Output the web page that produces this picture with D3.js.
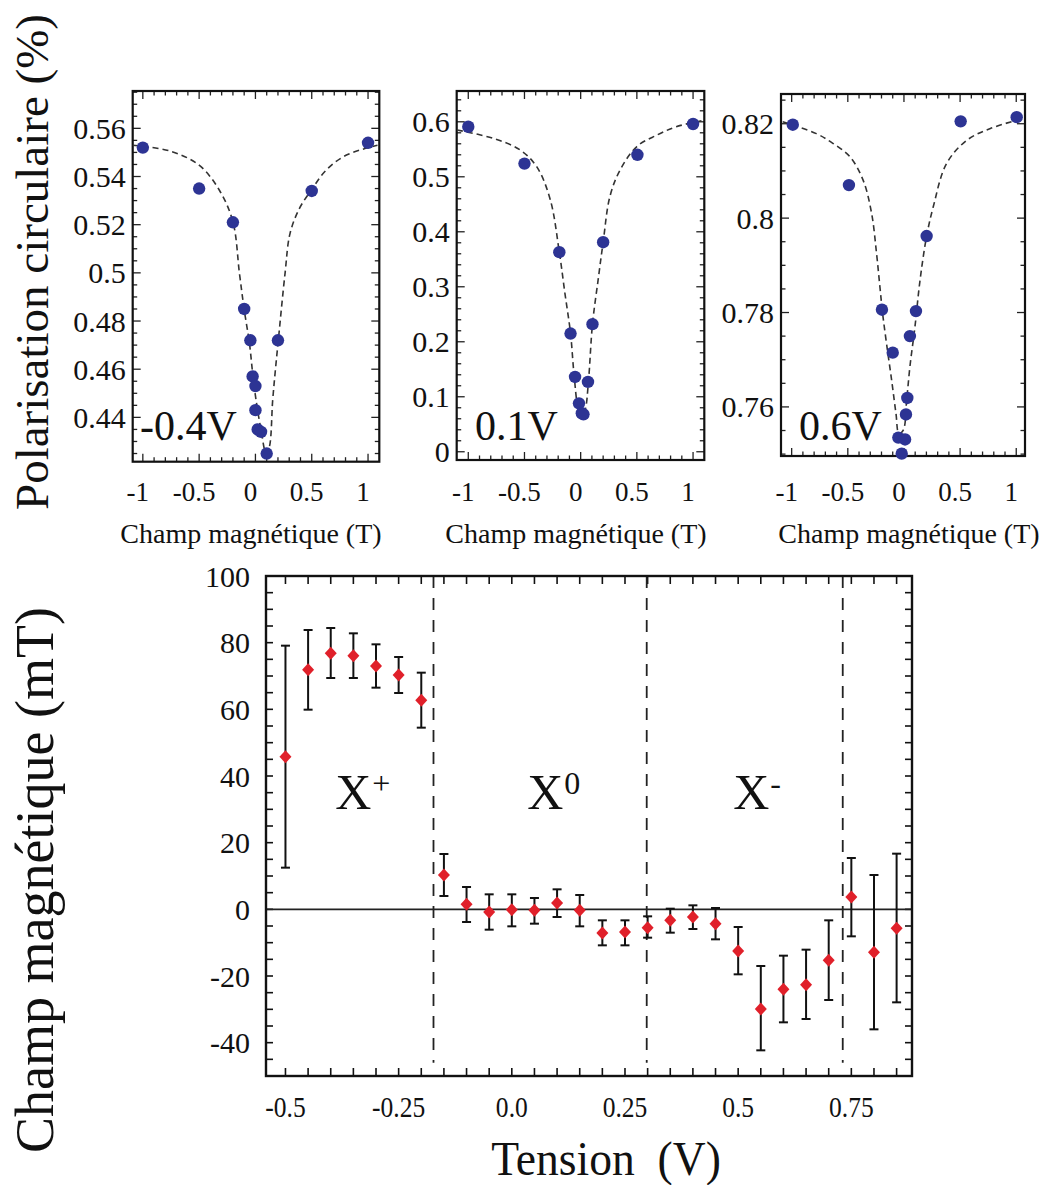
<!DOCTYPE html>
<html><head><meta charset="utf-8">
<script src="https://cdn.jsdelivr.net/npm/d3@7"></script>
<style>
body{margin:0;background:#fff}
svg text{fill:#111}
</style>
</head><body>
<svg id="c" width="1056" height="1185" font-family="'Liberation Serif', 'Times New Roman', 'DejaVu Serif', serif"></svg>
<script>
// ---------- DATA ----------
// Top panels: circular polarisation vs magnetic field
const fieldA = [-1, -0.5, -0.2, -0.1, -0.045, -0.025, 0.0, 0.0, 0.02, 0.05, 0.1, 0.2, 0.5, 1.0];
const polA   = [0.552, 0.535, 0.521, 0.485, 0.472, 0.457, 0.453, 0.443, 0.435, 0.434, 0.425, 0.472, 0.534, 0.554];
const fitFieldA = [-1.09, -0.76, -0.5, -0.32, -0.2, -0.142, -0.1, -0.053, -0.024, 0.006, 0.05, 0.095, 0.124, 0.153, 0.177, 0.204, 0.263, 0.307, 0.39, 0.496, 0.627, 0.804, 1.084];
const fitPolA   = [0.553, 0.5506, 0.5447, 0.5343, 0.5212, 0.4998, 0.4848, 0.4707, 0.458, 0.447, 0.4347, 0.425, 0.4278, 0.447, 0.4596, 0.4724, 0.4998, 0.5163, 0.5267, 0.5343, 0.5426, 0.5488, 0.553];

const fieldB = [-1.0, -0.5, -0.19, -0.09, -0.05, -0.015, 0.01, 0.025, 0.065, 0.105, 0.2, 0.505, 1.0];
const polB   = [0.591, 0.524, 0.363, 0.215, 0.136, 0.088, 0.070, 0.068, 0.127, 0.232, 0.381, 0.540, 0.596];
const fitFieldB = [-1.1, -0.78, -0.54, -0.39, -0.27, -0.19, -0.14, -0.09, -0.06, -0.02, 0.01, 0.04, 0.07, 0.105, 0.155, 0.2, 0.26, 0.35, 0.5, 0.68, 0.85, 1.1];
const fitPolB   = [0.585, 0.570, 0.549, 0.518, 0.458, 0.363, 0.288, 0.215, 0.143, 0.076, 0.064, 0.076, 0.130, 0.232, 0.312, 0.381, 0.464, 0.512, 0.555, 0.576, 0.591, 0.603];

const fieldC = [-0.99, -0.49, -0.196, -0.1, -0.05, -0.02, 0.01, 0.018, 0.03, 0.053, 0.107, 0.202, 0.505, 1.004];
const polC   = [0.8198, 0.807, 0.7806, 0.7715, 0.7535, 0.7501, 0.7531, 0.7584, 0.7619, 0.775, 0.7803, 0.7962, 0.8205, 0.8214];
const fitFieldC = [-1.08, -0.78, -0.63, -0.481, -0.363, -0.288, -0.244, -0.214, -0.19, -0.155, -0.11, -0.071, -0.045, -0.006, 0.024, 0.053, 0.098, 0.143, 0.202, 0.261, 0.38, 0.56, 0.77, 1.06];
const fitPolC   = [0.8204, 0.8179, 0.8158, 0.813, 0.808, 0.801, 0.7925, 0.7854, 0.7798, 0.7734, 0.7657, 0.7586, 0.7544, 0.7551, 0.7614, 0.7685, 0.777, 0.7868, 0.7962, 0.8024, 0.8116, 0.8165, 0.819, 0.8211];

const panelLabels = ["-0.4V", "0.1V", "0.6V"];
const fieldTicks = [-1, -0.5, 0, 0.5, 1];
const fieldTickLabels = ["-1", "-0.5", "0", "0.5", "1"];
const polTicksA = [0.44, 0.46, 0.48, 0.5, 0.52, 0.54, 0.56];
const polTicksB = [0, 0.1, 0.2, 0.3, 0.4, 0.5, 0.6];
const polTicksC = [0.76, 0.78, 0.8, 0.82];

// Bottom panel: magnetic field vs bias voltage
const tension = [-0.5,-0.45,-0.4,-0.35,-0.3,-0.25,-0.2,-0.15,-0.1,-0.05,0,0.05,0.1,0.15,0.2,0.25,0.3,0.35,0.4,0.45,0.5,0.55,0.6,0.65,0.7,0.75,0.8,0.85];
const champ   = [45.8,71.9,76.8,76.1,73.0,70.3,62.7,10.3,1.5,-0.8,-0.1,-0.3,1.9,-0.3,-7.1,-6.8,-5.5,-3.3,-2.3,-4.3,-12.5,-29.9,-24.0,-22.6,-15.3,3.7,-12.9,-5.7];
const champHi = [79.1,83.8,84.4,82.8,79.5,75.7,71.0,16.6,6.7,4.5,4.5,3.4,6.0,4.3,-3.3,-3.3,-2.1,0.2,1.2,0.4,-5.3,-17.0,-13.9,-12.1,-3.3,15.4,10.3,16.7];
const champLo = [12.5,59.9,69.4,69.4,66.5,64.9,54.5,4.0,-3.8,-6.1,-5.1,-4.3,-2.3,-5.1,-10.8,-10.8,-8.5,-7.0,-5.9,-9.0,-19.5,-42.3,-33.9,-32.9,-27.2,-8.1,-36.0,-27.9];
const boundaries = [-0.173, 0.298, 0.731];
const tensionTicks = [-0.5, -0.25, 0, 0.25, 0.5, 0.75];
const tensionTickLabels = ["-0.5", "-0.25", "0.0", "0.25", "0.5", "0.75"];
const champTicks = [-40, -20, 0, 20, 40, 60, 80, 100];
const regionBase = ["X", "X", "X"];
const regionSup = ["+", "0", "-"];
const regionPos = [-0.39, 0.034, 0.489];

// ---------- DRAWING ----------
const svg = d3.select("#c");
svg.append("rect").attr("width",1056).attr("height",1185).attr("fill","#fff");
const BLUE = "#2d3494", RED = "#e0202a";
const fmt = v => String(+v.toFixed(3));

function topPanel(o){
  const x = d3.scaleLinear().domain(o.xDom).range([o.l, o.r]);
  const y = d3.scaleLinear().domain(o.yDom).range([o.b, o.t]);
  const g = svg.append("g");
  const tk = g.append("g").attr("stroke","#222").attr("stroke-width",1.3);
  const xMinor = d3.range(-1.0, 1.0001, 0.1).filter(v => v>=o.xDom[0] && v<=o.xDom[1]);
  xMinor.forEach(v=>{
    const isMaj = Math.abs(v*2 - Math.round(v*2))<1e-6;
    const len = isMaj?8:4.5;
    tk.append("line").attr("x1",x(v)).attr("x2",x(v)).attr("y1",o.b).attr("y2",o.b-len);
    tk.append("line").attr("x1",x(v)).attr("x2",x(v)).attr("y1",o.t).attr("y2",o.t+len);
  });
  const lo = Math.ceil(o.yDom[0]/o.yMinor-1e-6)*o.yMinor;
  d3.range(lo, o.yDom[1]+1e-9, o.yMinor).forEach(v=>{
    const isMaj = o.yTicks.some(t=>Math.abs(t-v)<1e-6);
    const len = isMaj?8:4.5;
    tk.append("line").attr("y1",y(v)).attr("y2",y(v)).attr("x1",o.l).attr("x2",o.l+len);
    tk.append("line").attr("y1",y(v)).attr("y2",y(v)).attr("x1",o.r).attr("x2",o.r-len);
  });
  g.append("rect").attr("x",o.l).attr("y",o.t).attr("width",o.r-o.l).attr("height",o.b-o.t)
    .attr("fill","none").attr("stroke","#111").attr("stroke-width",2.2);
  o.yTicks.forEach(v=>{
    g.append("text").attr("x",o.l-7).attr("y",y(v)).attr("dy","0.35em")
      .attr("text-anchor","end").attr("font-size",30).text(fmt(v));
  });
  fieldTicks.forEach((v,i)=>{
    g.append("text").attr("x",x(v)-5).attr("y",501).attr("text-anchor","middle")
      .attr("font-size",27).text(fieldTickLabels[i]);
  });
  g.append("text").attr("x",o.axisCx).attr("y",543).attr("text-anchor","middle")
    .attr("font-size",28).text("Champ magnétique (T)");
  const line = d3.line().x(d=>x(d[0])).y(d=>y(d[1])).curve(d3.curveCatmullRom.alpha(0.5));
  g.append("path").datum(d3.zip(o.fitX, o.fitY)).attr("d",line)
    .attr("fill","none").attr("stroke","#333").attr("stroke-width",1.6).attr("stroke-dasharray","6,4");
  g.selectAll("circle.p").data(d3.zip(o.px, o.py)).join("circle")
    .attr("cx",d=>x(d[0])).attr("cy",d=>y(d[1])).attr("r",6.2).attr("fill",BLUE);
  g.append("text").attr("x",o.labX).attr("y",440).attr("font-size",42).text(o.label);
}

topPanel({l:132.7,r:379.3,t:91,b:461.7,xDom:[-1.09,1.10],yDom:[0.4216,0.5755],yTicks:polTicksA,yMinor:0.005,
  px:fieldA,py:polA,fitX:fitFieldA,fitY:fitPolA,label:panelLabels[0],labX:140,axisCx:251});
topPanel({l:456.7,r:704.3,t:91,b:460,xDom:[-1.103,1.1],yDom:[-0.015,0.656],yTicks:polTicksB,yMinor:0.02,
  px:fieldB,py:polB,fitX:fitFieldB,fitY:fitPolB,label:panelLabels[1],labX:475,axisCx:576});
topPanel({l:781,r:1025,t:94,b:456,xDom:[-1.095,1.078],yDom:[0.7496,0.8263],yTicks:polTicksC,yMinor:0.005,
  px:fieldC,py:polC,fitX:fitFieldC,fitY:fitPolC,label:panelLabels[2],labX:799,axisCx:909});

svg.append("text").attr("transform","translate(48,262) rotate(-90)").attr("text-anchor","middle")
  .attr("font-size",47).text("Polarisation circulaire (%)");

// ---------- bottom panel ----------
const L=266, R=912, T=576, B=1076;
const x = d3.scaleLinear().domain([-0.543, 0.884]).range([L, R]);
const y = d3.scaleLinear().domain([-50, 100]).range([B, T]);
const bg = svg.append("g");
const tk = bg.append("g").attr("stroke","#111").attr("stroke-width",1.6);
d3.range(-50, 100.001, 5).forEach(v=>{
  tk.append("line").attr("x1",L).attr("x2",L+7).attr("y1",y(v)).attr("y2",y(v));
  tk.append("line").attr("x1",R).attr("x2",R-7).attr("y1",y(v)).attr("y2",y(v));
});
d3.range(-0.5, 0.8501, 0.05).forEach(v=>{
  tk.append("line").attr("x1",x(v)).attr("x2",x(v)).attr("y1",B).attr("y2",B-8);
  tk.append("line").attr("x1",x(v)).attr("x2",x(v)).attr("y1",T).attr("y2",T+8);
});
bg.append("line").attr("x1",L).attr("x2",R).attr("y1",y(0)).attr("y2",y(0)).attr("stroke","#222").attr("stroke-width",1.6);
boundaries.forEach(v=>{
  bg.append("line").attr("x1",x(v)).attr("x2",x(v)).attr("y1",T).attr("y2",y(-46))
    .attr("stroke","#222").attr("stroke-width",1.8).attr("stroke-dasharray","12,10");
});
bg.append("rect").attr("x",L).attr("y",T).attr("width",R-L).attr("height",B-T)
  .attr("fill","none").attr("stroke","#111").attr("stroke-width",2.4);
const eb = bg.append("g").attr("stroke","#111").attr("stroke-width",2);
tension.forEach((v,i)=>{
  eb.append("line").attr("x1",x(v)).attr("x2",x(v)).attr("y1",y(champLo[i])).attr("y2",y(champHi[i]));
  eb.append("line").attr("x1",x(v)-4.5).attr("x2",x(v)+4.5).attr("y1",y(champLo[i])).attr("y2",y(champLo[i]));
  eb.append("line").attr("x1",x(v)-4.5).attr("x2",x(v)+4.5).attr("y1",y(champHi[i])).attr("y2",y(champHi[i]));
});
bg.selectAll("path.d").data(d3.zip(tension, champ)).join("path")
  .attr("d",d=>`M${x(d[0])},${y(d[1])-6.5}l6,6.5l-6,6.5l-6,-6.5z`).attr("fill",RED);
champTicks.forEach(v=>{
  bg.append("text").attr("x",250).attr("y",y(v)).attr("dy","0.35em").attr("text-anchor","end")
    .attr("font-size",30).text(v);
});
tensionTicks.forEach((v,i)=>{
  bg.append("text").attr("transform",`translate(${x(v)},1117) scale(0.88,1)`).attr("text-anchor","middle")
    .attr("font-size",29).text(tensionTickLabels[i]);
});
regionPos.forEach((v,i)=>{
  const t = bg.append("text").attr("x",x(v)).attr("y",y(30)).attr("font-size",50);
  t.append("tspan").text(regionBase[i]);
  t.append("tspan").attr("font-size",32).attr("dy",-15).attr("dx",1).text(regionSup[i]);
});
svg.append("text").attr("transform","translate(606,1175) scale(0.95,1)").attr("text-anchor","middle")
  .attr("font-size",48).style("white-space","pre").text("Tension  (V)");
svg.append("text").attr("transform","translate(53,880) rotate(-90)").attr("text-anchor","middle")
  .attr("font-size",54).text("Champ magnétique (mT)");
</script>
</body></html>
